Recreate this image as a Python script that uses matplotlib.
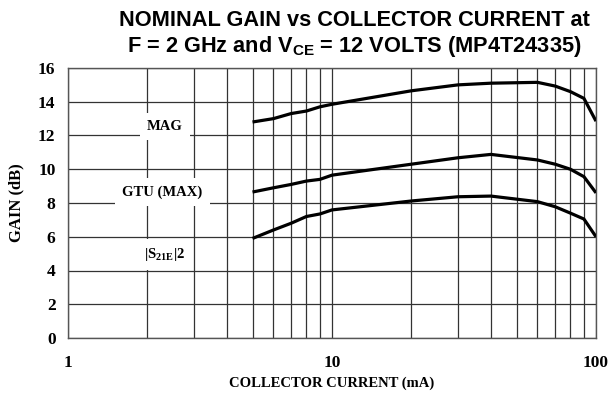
import matplotlib.pyplot as plt
from matplotlib.ticker import LogLocator, NullFormatter, FixedLocator

# collector current (mA)
current = [5, 6, 7, 8, 9, 10, 20, 30, 40, 60, 70, 80, 90, 100]

# gain curves (dB)
mag = [12.8, 13.0, 13.3, 13.45, 13.7, 13.85, 14.65, 15.0, 15.1, 15.15, 14.93, 14.6, 14.2, 12.85]
gtu = [8.65, 8.9, 9.1, 9.3, 9.4, 9.65, 10.3, 10.68, 10.88, 10.55, 10.3, 10.0, 9.56, 8.6]
s21 = [5.9, 6.4, 6.8, 7.2, 7.35, 7.59, 8.12, 8.37, 8.41, 8.08, 7.78, 7.4, 7.05, 6.0]

curve_labels = ["MAG", "GTU (MAX)", r"|S$_{\mathbf{21E}}$|2"]
label_x = [2.33, 2.28, 2.33]
label_y = [12.56, 8.65, 4.92]

serif = "Liberation Serif"
sans = "Liberation Sans"
plt.rcParams["mathtext.fontset"] = "custom"
plt.rcParams["mathtext.rm"] = "Liberation Serif:bold"
plt.rcParams["mathtext.bf"] = "Liberation Serif:bold"
plt.rcParams["mathtext.sf"] = "Liberation Sans:bold"

fig = plt.figure(figsize=(6.08, 4.04), dpi=100)
ax = fig.add_axes([68 / 608, 1 - 338 / 404, (596 - 68) / 608, (338 - 68) / 404])

for ys in (mag, gtu, s21):
    ax.plot(current, ys, color="black", lw=2.3, solid_capstyle="butt", zorder=3)

ax.set_xscale("log")
ax.set_xlim(1, 100)
ax.set_ylim(0, 16)
ax.xaxis.set_major_locator(FixedLocator([1, 10, 100]))
ax.xaxis.set_minor_locator(LogLocator(base=10, subs=range(2, 10)))
ax.xaxis.set_minor_formatter(NullFormatter())
ax.set_xticklabels(["1", "10", "100"])
ax.set_yticks(range(0, 17, 2))
ax.grid(True, which="both", axis="x", color="#333333", lw=0.9)
ax.grid(True, which="major", axis="y", color="#333333", lw=0.9)
ax.tick_params(which="both", length=0)
ax.tick_params(axis="x", pad=12)
ax.tick_params(axis="y", pad=9)
for lab in ax.get_xticklabels() + ax.get_yticklabels():
    lab.set_fontfamily(serif)
    lab.set_fontweight("bold")
    lab.set_fontsize(12.5)
for sp in ax.spines.values():
    sp.set_color("#555555")
    sp.set_linewidth(1)

for txt, x, y in zip(curve_labels, label_x, label_y):
    ax.text(x, y, txt, ha="center", va="center", fontfamily=serif, fontweight="bold",
            fontsize=10.5, zorder=4,
            bbox=dict(facecolor="white", edgecolor="none", pad=5))

ax.set_xlabel("COLLECTOR CURRENT (mA)", fontfamily=serif, fontweight="bold", fontsize=10.5, labelpad=4)
ax.set_ylabel("GAIN (dB)", fontfamily=serif, fontweight="bold", fontsize=12, labelpad=10)

fig.text(0.583, 0.950, "NOMINAL GAIN vs COLLECTOR CURRENT at", ha="center", va="center",
         fontfamily=sans, fontweight="bold", fontsize=15.7)
fig.text(0.583, 0.884, r"F = 2 GHz and V$_{\mathsf{CE}}$ = 12 VOLTS (MP4T24335)", ha="center", va="center",
         fontfamily=sans, fontweight="bold", fontsize=15.7)

fig.savefig("out.png", dpi=100)
